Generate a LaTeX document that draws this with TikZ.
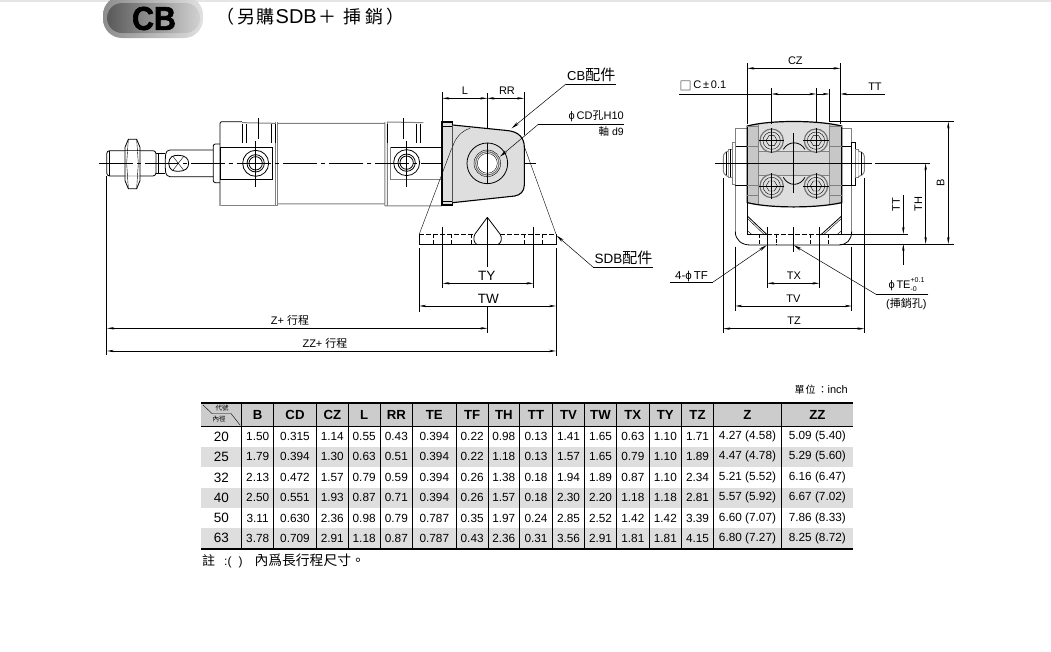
\documentclass[tikz,border=0pt]{standalone}
\usepackage{fontspec}
\setmainfont{Liberation Sans}
\newfontfamily\cjk{Noto Sans CJK TC}
\newfontfamily\heavy[BoldFeatures={FakeBold=2}]{Liberation Sans}
\usetikzlibrary{arrows.meta}
\newcommand{\sz}[1]{\fontsize{#1}{#1}\selectfont}
\newcommand{\clampbody}{(232,228) .. controls (300,210) and (440,210) .. (515,228) -- (515,458) .. controls (440,475) and (300,475) .. (232,458) -- cycle}
\definecolor{panelgray}{gray}{0.87}
\definecolor{sidegray}{gray}{0.78}
\definecolor{bandgray}{gray}{0.83}
\definecolor{headgray}{gray}{0.80}
\definecolor{rowgray}{gray}{0.87}
\tikzset{
    zoomed/.style 2 args={shift={(#1,#2)}, x={0.3333pt}, y={-0.3333pt}},
    outline/.style={line width=0.8pt, draw=black},
    greyline/.style={line width=1pt, draw=black!50},
    fine/.style={line width=0.4pt, draw=black},
    dimline/.style={line width=0.5pt, {Stealth[length=7pt,width=2.4pt]}-{Stealth[length=7pt,width=2.4pt]}},
    tipline/.style={line width=0.5pt, -{Stealth[length=7pt,width=2.4pt]}},
    extline/.style={line width=0.5pt},
    leader/.style={line width=0.5pt, -{Stealth[length=8pt,width=3pt]}},
    centreline/.style={line width=0.55pt, dash pattern=on 34pt off 4pt on 4pt off 4pt},
    dimlabel/.style={inner sep=0pt, font=\sz{11}},
    biglabel/.style={inner sep=0pt, font=\sz{13.5}},
    tagged/.style={inner xsep=1pt, inner ysep=2pt, anchor=south west},
    cell/.style={inner sep=0pt, font=\sz{11.8}},
    headcell/.style={inner sep=0pt, font=\bfseries\sz{13.2}},
}
\begin{document}
\begin{tikzpicture}[y={-1pt}, x={1pt}]
    \useasboundingbox (0,0) rectangle (1051,651);
    \fill[black!10] (0,0) rectangle (1051,2);

    \shade[left color=black!45, right color=black!12, rounded corners=19pt] (103,-4) rectangle (203,38);
    \shade[left color=black!65, right color=black!18, rounded corners=15pt] (107,3) rectangle (200,33);
    \node[inner sep=0pt, font=\heavy\bfseries\sz{33}, xscale=0.92] (badge) at (154,18.5) {CB};
    \node[inner sep=0pt, anchor=mid west, font=\sz{20}] (title) at (216,21)
        {{\cjk\sz{18}（\hspace{3pt}另\hspace{1.5pt}購}\hspace{1pt}SDB\hspace{2pt}{\cjk\sz{18}＋\hspace{7pt}挿\hspace{4pt}銷\hspace{3pt}）}};

    \begin{scope}[zoomed={90}{0}]
        \draw[outline, rounded corners=3pt] (50,452) -- (198,452) -- (198,528) -- (50,528) -- cycle;
        \draw[fine] (58,452) -- (58,528);
        \draw[outline, fill=white] (105,442) -- (115,418) -- (140,418) -- (150,442) -- (150,542) -- (140,566) -- (115,566) -- (105,542) -- cycle;
        \draw[fine] (105,452) -- (150,452) (105,528) -- (150,528) (115,418) -- (110,490) -- (115,566) (140,418) -- (145,490) -- (140,566);
        \draw[outline] (198,460) -- (225,460) (198,520) -- (225,520);
        \draw[fine] (205,460) -- (205,520);
        \draw[outline, rounded corners=4pt] (370,450) -- (228,450) -- (225,490) -- (228,530) -- (370,530);
        \draw[outline] (236,490) .. controls (238,470) and (248,466) .. (265,466) .. controls (285,466) and (296,475) .. (296,490) .. controls (296,505) and (285,514) .. (265,514) .. controls (248,514) and (238,510) .. (236,490);
        \draw[fine] (248,468) -- (282,512) (248,512) -- (282,468);
        \draw[outline, rounded corners=2pt] (390,432) -- (370,432) -- (370,548) -- (390,548);

        \draw[greyline] (392,618) -- (563,618) -- (563,366) (558,366) -- (558,618);
        \draw[outline] (390,618) -- (390,370) -- (394,365) -- (456,365);
        \draw[greyline] (456,368) -- (555,370) (563,370) -- (885,370) (563,612) -- (885,612);
        \draw[greyline] (885,366) -- (885,618) (892,366) -- (892,618) (885,618) -- (1055,618) (892,366) -- (1000,368);
        \draw[outline] (390,442) rectangle (548,538);
        \draw[outline] (1055,442) -- (903,442);
        \draw[greyline] (903,442) -- (903,540) -- (1055,540);
        \foreach \px/\py/\qx in {497/490/505, 950/488/940} {
            \draw[outline] (\px,\py) circle[radius=39];
            \draw[outline] (\px,\py) circle[radius=26];
            \draw[outline] (\px,\py) circle[radius=20];
            \draw[fine] (\px,423) -- (\px,560);
            \draw[fine] (\qx,353) -- (\qx,418);
        }
        \draw[fine] (458,372) -- (458,430) (468,372) -- (468,430) (545,372) -- (545,430) (555,372) -- (555,430);
        \draw[fine] (893,372) -- (893,430) (980,372) -- (980,430) (990,372) -- (990,430);

        \coordinate (rodend) at (50,528);
        \coordinate (rodfoot) at (50,1065);
        \draw[extline] (rodend) -- (rodfoot);
    \end{scope}

    \draw[centreline] (99,163.3) -- (536,163.3);

    \begin{scope}[zoomed={400}{60}]
        \fill[panelgray] (125,183) rectangle (158,438);
        \draw[line width=2.2pt] (158,185) -- (127,185) -- (127,436) -- (158,436);
        \draw[fine] (130,198) -- (158,198) (130,425) -- (158,425) (158,185) -- (158,436);
        \fill[panelgray] (158,195) -- (325,212) .. controls (358,216) and (373,235) .. (373,262) -- (373,375) .. controls (373,395) and (360,405) .. (345,408) -- (158,428) -- cycle;
        \draw[line width=1.1pt] (158,195) -- (325,212) .. controls (358,216) and (373,235) .. (373,262) -- (373,375) .. controls (373,395) and (360,405) .. (345,408) -- (158,428);
        \draw[fine] (158,260) .. controls (165,235) and (185,212) .. (210,205);
        \draw[fine] (155,265) -- (58,522) (375,265) -- (468,522);
        \draw[outline] (262,310) circle[radius=61];
        \draw[line width=1pt, draw=black!55, fill=white] (262,310) circle[radius=35];
        \draw[fine] (262,310) circle[radius=40];
        \draw[fine] (262,310) circle[radius=30];
        \draw[fine] (262,100) -- (262,205) (262,248) -- (262,372);

        \draw[outline] (58,522) -- (58,553) -- (468,553) -- (468,522);
        \draw[outline, dash pattern=on 5pt off 2pt] (58,522) -- (225,522) (300,522) -- (468,522);
        \foreach \hx in {100,153,215,373,427} {
            \draw[fine, dash pattern=on 4pt off 2pt] (\hx,522) -- (\hx,553);
        }
        \draw[outline] (262,472) -- (225,522) .. controls (218,535) and (222,548) .. (230,553);
        \draw[outline] (262,472) -- (300,522) .. controls (308,535) and (304,548) .. (295,553);

        \draw[extline] (262,472) -- (262,620) (262,740) -- (262,820);
        \draw[extline] (128,500) -- (128,685) (400,500) -- (400,685);
        \draw[extline] (58,565) -- (58,755) (468,565) -- (468,888);
        \draw[extline] (127,97) -- (127,183) (372,97) -- (372,225);

        \draw[dimline] (127,115) -- (262,115);
        \draw[dimline] (262,115) -- (372,115);
        \draw[dimline] (128,670) -- (400,670);
        \draw[dimline] (58,738) -- (468,738);
        \draw[dimline] (-879,805) -- (262,805);
        \draw[dimline] (-879,873) -- (468,873);

        \node[dimlabel] (dimL) at (195,92) {L};
        \node[dimlabel] (dimRR) at (321,92) {RR};
        \node[biglabel] (dimTY) at (260,648) {TY};
        \node[biglabel] (dimTW) at (265,716) {TW};
        \node[inner sep=0pt, font=\sz{11}] (dimZ) at (-330,780) {Z+ {\cjk 行程}};
        \node[inner sep=0pt, font=\sz{11}] (dimZZ) at (-225,850) {ZZ+ {\cjk 行程}};

        \coordinate (cbtip) at (335,205);
        \coordinate (cdtip) at (300,290);
        \coordinate (sdbtip) at (470,527);
        \node[tagged, font=\sz{13}] (cbtag) at (498,72) {CB{\cjk\sz{15}配件}};
        \draw[extline] (cbtag.south west) -- (cbtag.south east);
        \draw[leader] (cbtag.south west) -- (cbtip);
        \node[inner sep=0pt, anchor=mid east, font=\sz{11}] (cdtag) at (672,172) {ϕ\,CD{\cjk 孔}H10};
        \coordinate (cdelbow) at (415,193);
        \draw[extline] (672,193) -- (cdelbow);
        \draw[leader] (cdelbow) -- (cdtip);
        \node[inner sep=0pt, anchor=mid east, font=\sz{10.5}] (shafttag) at (672,218) {{\cjk 軸} d9};
        \node[tagged, font=\sz{13.5}] (sdbtag) at (580,622) {SDB{\cjk\sz{15}配件}};
        \draw[extline] (sdbtag.south west) -- (sdbtag.south east);
        \draw[leader] (sdbtag.south west) -- (sdbtip);
    \end{scope}

    \begin{scope}[zoomed={670}{50}]
        \draw[greyline, fill=white] (232,235) -- (196,235) -- (196,545);
        \draw[greyline] (515,235) -- (545,235) -- (545,545);
        \draw[outline] (196,545) .. controls (196,570) and (215,585) .. (240,585) -- (505,585) .. controls (530,585) and (545,570) .. (545,545);
        \draw[outline] (196,288) -- (232,288) (196,405) -- (232,405) (515,288) -- (545,288) (515,405) -- (545,405);

        \draw[outline] (232,458) -- (232,552) (515,458) -- (515,552);
        \draw[outline] (232,498) -- (292,555) (515,498) -- (452,555);
        \draw[fine] (232,505) -- (284,555) (515,505) -- (460,555);
        \draw[fine] (232,542) -- (244,552) (515,542) -- (503,552);
        \draw[outline] (232,552) -- (292,552) (452,552) -- (515,552);
        \draw[outline, dash pattern=on 5pt off 2pt] (292,552) -- (452,552);
        \foreach \hx in {268,422,475} {
            \draw[fine, dash pattern=on 4pt off 2pt] (\hx,552) -- (\hx,585);
        }
        \draw[line width=1pt, dash pattern=on 4pt off 1pt] (320,552) -- (320,585);

        \draw[greyline, fill=white] (186,278) rectangle (196,405);
        \draw[greyline, fill=white] (175,298) rectangle (186,382);
        \draw[greyline, fill=white, rounded corners=3pt] (175,303) -- (160,310) -- (160,372) -- (175,380);
        \draw[fine] (180,298) -- (180,382) (168,306) -- (168,376);
        \draw[outline, fill=white] (545,278) rectangle (557,405);
        \draw[greyline, fill=white] (557,298) rectangle (565,384);
        \draw[greyline, fill=white, rounded corners=3pt] (565,303) -- (583,310) -- (583,372) -- (565,380);
        \draw[fine] (574,306) -- (574,376);

        \fill[panelgray] \clampbody;
        \begin{scope}
            \clip \clampbody;
            \fill[sidegray] (232,210) rectangle (265,475);
            \fill[sidegray] (478,210) rectangle (515,475);
        \end{scope}
        \fill[bandgray] (265,305) rectangle (478,375);
        \draw[line width=1.2pt] \clampbody;
        \draw[fine, draw=black!50] (265,222) -- (265,463) (478,222) -- (478,463) (232,230) -- (265,230) (478,230) -- (515,230) (232,288) -- (265,288) (478,288) -- (515,288) (232,405) -- (265,405) (478,405) -- (515,405) (232,435) -- (265,435) (478,435) -- (515,435) (265,305) -- (478,305) (265,375) -- (478,375);
        \draw[outline] (340,298) .. controls (355,272) and (390,272) .. (405,298);
        \draw[outline] (340,382) .. controls (355,410) and (390,410) .. (405,382);
        \foreach \bx/\by in {305/272, 438/272, 305/408, 438/408} {
            \draw[line width=1.2pt, draw=black!55, fill=panelgray] (\bx,\by) circle[radius=35];
            \draw[fine] (\bx,\by) circle[radius=26];
            \draw[fine] ({\bx+17},\by) -- ({\bx+8},{\by+15}) -- ({\bx-8},{\by+15}) -- ({\bx-17},\by) -- ({\bx-8},{\by-15}) -- ({\bx+8},{\by-15}) -- cycle;
            \draw[fine] ({\bx-38},\by) -- ({\bx+38},\by) (\bx,{\by-38}) -- (\bx,{\by+38});
        }

        \draw[extline] (135,340) -- (605,340) (615,340) -- (780,340);
        \draw[extline] (370,250) -- (370,430) (370,532) -- (370,605);

        \draw[extline] (232,40) -- (232,222) (511,40) -- (511,222);
        \draw[extline] (305,115) -- (305,222) (438,115) -- (438,215) (478,118) -- (478,215);
        \draw[extline] (480,215) -- (852,215) (510,582) -- (852,582) (450,552) -- (715,552);
        \draw[extline] (292,530) -- (292,715) (448,530) -- (448,715);
        \draw[extline] (196,590) -- (196,783) (545,590) -- (545,783);
        \draw[extline] (160,385) -- (160,850) (583,385) -- (583,850);

        \draw[dimline] (232,55) -- (511,55);
        \draw[extline] (28,132) -- (305,132);
        \draw[dimline] (305,132) -- (438,132);
        \draw[tipline] (438,132) -- (478,132);
        \draw[tipline] (645,132) -- (511,132);
        \draw[dimline] (835,215) -- (835,582);
        \draw[dimline] (767,340) -- (767,582);
        \draw[tipline] (700,435) -- (700,552);
        \draw[tipline] (700,645) -- (700,582);
        \draw[dimline] (292,700) -- (448,700);
        \draw[dimline] (196,768) -- (545,768);
        \draw[dimline] (160,836) -- (583,836);

        \node[dimlabel] (dimCZ) at (376,33) {CZ};
        \node[inner sep=0pt, anchor=mid west, font=\sz{11}] (dimC) at (28,108) {\raisebox{-1.5pt}{\cjk\sz{12}□}\,C$\,$±$\,$0.1};
        \node[dimlabel] (dimTTa) at (615,110) {TT};
        \node[dimlabel, rotate=90] (dimB) at (812,400) {B};
        \node[dimlabel, rotate=90] (dimTH) at (745,462) {TH};
        \node[dimlabel, rotate=90] (dimTTb) at (678,465) {TT};
        \node[dimlabel] (dimTX) at (372,678) {TX};
        \node[dimlabel] (dimTV) at (370,745) {TV};
        \node[dimlabel] (dimTZ) at (372,813) {TZ};

        \coordinate (tftip) at (290,586);
        \coordinate (tetip) at (372,586);
        \node[inner sep=0pt, anchor=mid west, font=\sz{11.5}] (tftag) at (15,680) {4-ϕ\,TF};
        \coordinate (tfelbow) at (128,697);
        \draw[extline] (0,697) -- (tfelbow);
        \draw[leader] (tfelbow) -- (tftip);
        \node[inner sep=0pt, anchor=mid west, font=\sz{11}] (tetag) at (655,707)
            {ϕ\,TE\rlap{\raisebox{5.5pt}{\sz{7}+0.1}}\raisebox{-3.5pt}{\sz{7}-0}};
        \coordinate (teelbow) at (618,733);
        \draw[extline] (775,733) -- (teelbow);
        \draw[leader] (teelbow) -- (tetip);
        \node[inner sep=0pt, anchor=mid west, font=\sz{11}] (holetag) at (648,765) {({\cjk 挿銷孔})};
    \end{scope}

    \node[inner sep=0pt, anchor=mid east, font=\sz{11}] (unittag) at (848,391) {{\cjk\sz{10}單\hspace{1pt}位\hspace{2pt}：}inch};
    \fill[headgray] (201,402) rectangle (853,426.7);
    \foreach \yb [count=\r, remember=\yb as \ya (initially 426.7)] in {446.7,467,487.7,507.7,528.3,548.3} {
        \coordinate (row\r) at (0,{(\ya+\yb)/2});
    }
    \fill[rowgray] (201,446.7) rectangle (853,467);
    \fill[rowgray] (201,487.7) rectangle (853,507.7);
    \fill[rowgray] (201,528.3) rectangle (853,548.3);
    \foreach \xb [count=\c, remember=\xb as \xa (initially 201)] in {241.7,273.7,316.3,348.3,380,412.7,456,488.3,519.3,552.7,584.3,616.7,649,681.7,713.3,781.7,853} {
        \coordinate (col\c) at ({(\xa+\xb)/2},0);
        \ifnum\c<17
            \draw[line width=0.8pt] (\xb,402) -- (\xb,548.3);
        \fi
    }
    \draw[line width=2.6pt] (201,403) -- (853,403);
    \draw[line width=0.8pt] (201,426.7) -- (853,426.7);
    \draw[line width=2.6pt] (201,549) -- (853,549);
    \draw[fine] (203,405) -- (212,413.5) -- (231,413.5) -- (240,425);
    \node[inner sep=0pt, font=\cjk\sz{6.5}] (headcode) at (222,408.5) {代號};
    \node[inner sep=0pt, font=\cjk\sz{6.5}] (headbore) at (219,419.5) {內徑};
    \foreach \h [count=\c from 2] in {B,CD,CZ,L,RR,TE,TF,TH,TT,TV,TW,TX,TY,TZ,Z,ZZ} {
        \node[headcell] (head\c) at (col\c |- 0,415) {\h};
    }
    \foreach \r/\bore/\rowvals in {
        1/20/{1.50,0.315,1.14,0.55,0.43,0.394,0.22,0.98,0.13,1.41,1.65,0.63,1.10,1.71,4.27 (4.58),5.09 (5.40)},
        2/25/{1.79,0.394,1.30,0.63,0.51,0.394,0.22,1.18,0.13,1.57,1.65,0.79,1.10,1.89,4.47 (4.78),5.29 (5.60)},
        3/32/{2.13,0.472,1.57,0.79,0.59,0.394,0.26,1.38,0.18,1.94,1.89,0.87,1.10,2.34,5.21 (5.52),6.16 (6.47)},
        4/40/{2.50,0.551,1.93,0.87,0.71,0.394,0.26,1.57,0.18,2.30,2.20,1.18,1.18,2.81,5.57 (5.92),6.67 (7.02)},
        5/50/{3.11,0.630,2.36,0.98,0.79,0.787,0.35,1.97,0.24,2.85,2.52,1.42,1.42,3.39,6.60 (7.07),7.86 (8.33)},
        6/63/{3.78,0.709,2.91,1.18,0.87,0.787,0.43,2.36,0.31,3.56,2.91,1.81,1.81,4.15,6.80 (7.27),8.25 (8.72)}} {
        \node[inner sep=0pt, font=\sz{13.5}] (bore\r) at (col1 |- row\r) {\bore};
        \foreach \v [count=\c from 2] in \rowvals {
            \node[cell] (cell\r-\c) at (col\c |- row\r) {\v};
        }
    }
    \node[inner sep=0pt, anchor=mid west, font=\sz{12}] (tablenote) at (202,563)
        {{\cjk\sz{13}註}\hspace{9pt}:(\hspace{7pt})\hspace{12pt}{\cjk\sz{13.8}內爲長行程尺寸。}};
\end{tikzpicture}
\end{document}
